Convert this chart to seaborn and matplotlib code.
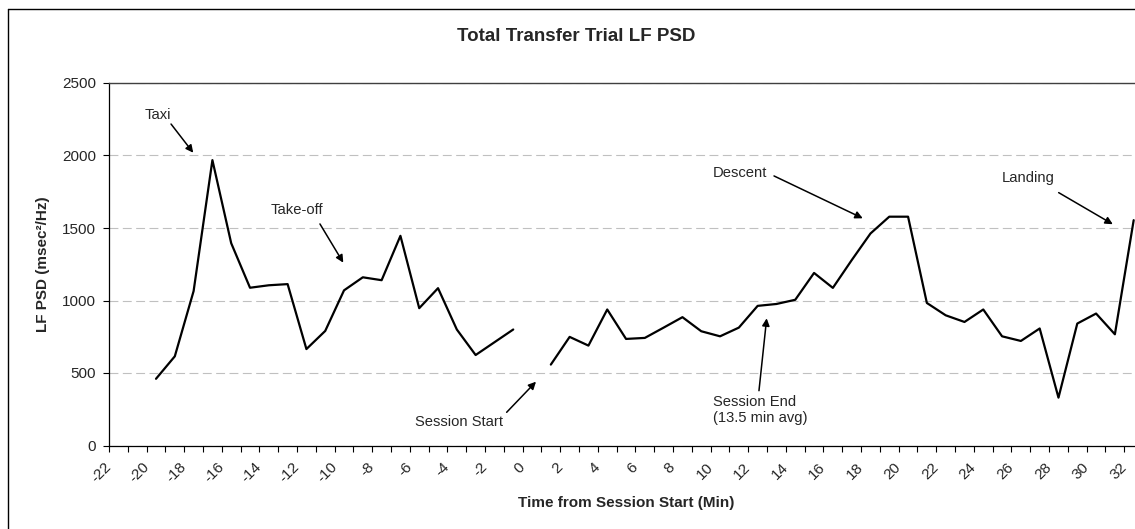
import numpy as np
import pandas as pd
import matplotlib
matplotlib.use("Agg")
import matplotlib.pyplot as plt
from matplotlib.lines import Line2D
import seaborn as sns

# LF PSD per one-minute window, plotted at window centres (minutes from session start)
minutes = [-19.5, -18.5, -17.5, -16.5, -15.5, -14.5, -13.5, -12.5, -11.5, -10.5,
           -9.5, -8.5, -7.5, -6.5, -5.5, -4.5, -3.5, -2.5, -1.5, -0.5,
           0.5, 1.5, 2.5, 3.5, 4.5, 5.5, 6.5, 7.5, 8.5, 9.5,
           10.5, 11.5, 12.5, 13.5, 14.5, 15.5, 16.5, 17.5, 18.5, 19.5,
           20.5, 21.5, 22.5, 23.5, 24.5, 25.5, 26.5, 27.5, 28.5, 29.5,
           30.5, 31.5, 32.5]
lf_psd = [460, 615, 1065, 1968, 1395, 1088, 1105, 1113, 665, 790,
          1070, 1160, 1140, 1446, 947, 1085, 800, 624, 712, 800,
          np.nan, 558, 749, 689, 938, 735, 742, 813, 885, 788,
          753, 813, 963, 976, 1005, 1190, 1087, 1278, 1462, 1578,
          1578, 983, 898, 852, 938, 753, 721, 807, 330, 841,
          910, 767, 1554]

x_ticks = list(range(-22, 33))
x_labels = [str(v) if v % 2 == 0 else "" for v in x_ticks]
y_ticks = [0, 500, 1000, 1500, 2000, 2500]

df = pd.DataFrame({"minute": minutes, "psd": lf_psd})
# break the trace where a window is missing
df["segment"] = df["psd"].isna().cumsum()
df = df.dropna()

sns.set_style("white")
plt.rcParams["font.family"] = ["Liberation Sans", "DejaVu Sans"]

W, H = 1135, 529
fig = plt.figure(figsize=(W / 100, H / 100), dpi=100)
ax = fig.add_axes([109 / W, 1 - 445.5 / H, 1 - 109 / W, (445.5 - 83) / H])

sns.lineplot(data=df, x="minute", y="psd", units="segment", estimator=None,
             color="black", linewidth=1.6, ax=ax, legend=False)

ax.set_xlim(-22, 32.57)
ax.set_ylim(0, 2500)

ax.set_yticks(y_ticks)
ax.set_yticklabels([str(v) for v in y_ticks], fontsize=11)
ax.set_xticks(x_ticks)
ax.set_xticklabels(x_labels, fontsize=11, rotation=45, ha="right", va="center",
                   rotation_mode="anchor")

ax.tick_params(axis="both", which="major", direction="out", length=4, width=0.8,
               color="black", left=True, bottom=True)
ax.tick_params(axis="y", pad=5.5)
ax.tick_params(axis="x", pad=10)

ax.yaxis.grid(True, color="#c0c0c0", linewidth=0.8, linestyle=(0, (8, 4)))
ax.xaxis.grid(False)
ax.set_axisbelow(True)

for side in ["left", "bottom"]:
    ax.spines[side].set_color("black")
    ax.spines[side].set_linewidth(0.9)
ax.spines["top"].set_color("#404040")
ax.spines["top"].set_linewidth(1.0)
ax.spines["right"].set_visible(False)

ax.set_xlabel("Time from Session Start (Min)", fontsize=11, fontweight="bold", va="center")
ax.xaxis.set_label_coords((626 - 109) / 1026, (445.5 - 503) / 362.5)
ax.set_ylabel("LF PSD (msec²/Hz)", fontsize=11, fontweight="bold", va="center")
ax.yaxis.set_label_coords((43 - 109) / 1026, 0.5)

fig.text(576.5 / W, 1 - 36.7 / H, "Total Transfer Trial LF PSD", ha="center", va="center",
         fontsize=13.5, fontweight="bold")

# event labels and pointers
arrow = dict(arrowstyle="-|>", color="black", lw=1.1, mutation_scale=11,
             shrinkA=0, shrinkB=0)
notes = [
    ("Taxi", (-19.39, 2279), (-18.70, 2217), (-17.52, 2019), "center"),
    ("Take-off", (-12.03, 1624), (-10.78, 1528), (-9.54, 1261), "center"),
    ("Session Start", (-3.38, 162), (-0.85, 229), (0.71, 440), "center"),
    ("Descent", (11.55, 1879), (13.37, 1859), (18.09, 1567), "center"),
    ("Landing", (26.88, 1845), (28.51, 1744), (31.39, 1526), "center"),
]
for text, pos, tail, head, ha in notes:
    ax.text(pos[0], pos[1], text, ha=ha, va="center", fontsize=10.6)
    ax.annotate("", xy=head, xytext=tail, arrowprops=arrow)

ax.text(10.11, 348, "Session End\n(13.5 min avg)", ha="left", va="top", fontsize=10.6,
        linespacing=1.15)
ax.annotate("", xy=(12.98, 877), xytext=(12.57, 378), arrowprops=arrow)

# chart border
fig.add_artist(Line2D([8 / W, 8 / W], [0, 1 - 9 / H], color="black", lw=1.0,
                      transform=fig.transFigure))
fig.add_artist(Line2D([8 / W, 1], [1 - 9 / H, 1 - 9 / H], color="black", lw=1.0,
                      transform=fig.transFigure))

fig.savefig("out.png", dpi=100)
